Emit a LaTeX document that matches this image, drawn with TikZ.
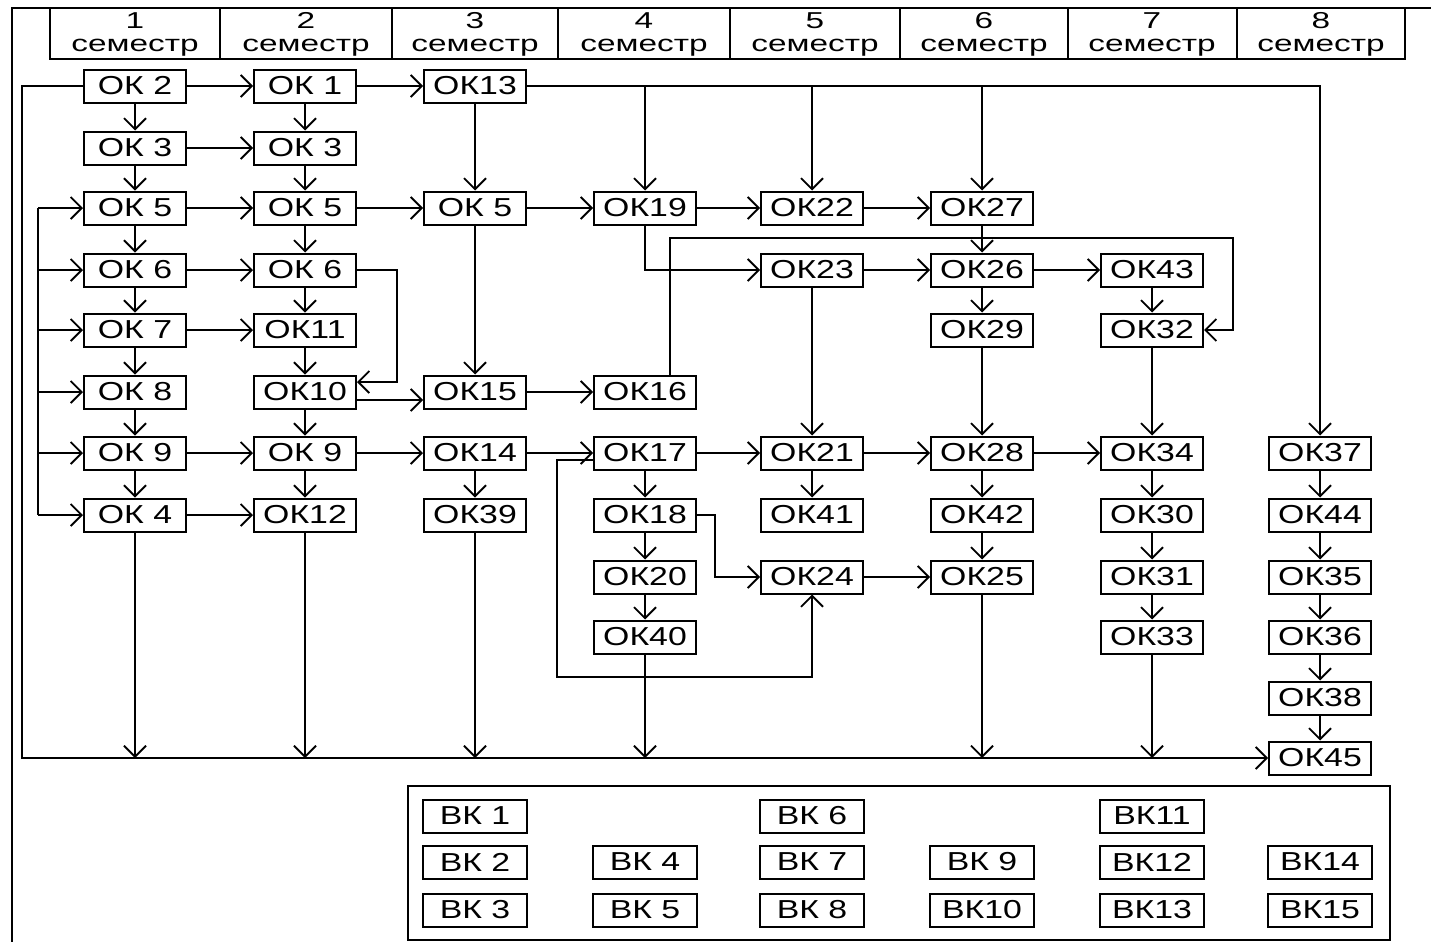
\documentclass[tikz,border=0pt]{standalone}
\usepackage{fontspec}
\setmainfont{Liberation Sans}
\newfontfamily\boxfont[FakeStretch=1.3]{Liberation Sans}
\newfontfamily\hdrfont[FakeStretch=1.45]{Liberation Sans}
\usetikzlibrary{arrows.meta}
\begin{document}
\begin{tikzpicture}[x=0.5pt,y=-0.5pt,line width=0.9pt,
  okbox/.style={draw,line width=1pt,fill=white,minimum width=51pt,minimum height=16.5pt,inner sep=0pt,font=\boxfont\fontsize{13pt}{13pt}\selectfont},
  vkbox/.style={okbox,minimum width=52pt},
  arr/.style={-{Straight Barb[length=5.5pt,width=11pt]}},
  hdr/.style={align=center,inner sep=0pt,font=\hdrfont\fontsize{11.5pt}{11.5pt}\selectfont}]
\useasboundingbox (0,0) rectangle (1431,942);
\fill[white] (0,0) rectangle (1431,942);
% outer frame
\draw (1431,8) -- (12,8) -- (12,942);
% header
\draw (50,8) rectangle (1405,59);
\foreach \xx in {220,392,558,730,900,1068,1237} \draw (\xx,8) -- (\xx,59);
\node[hdr] (h1) at (135,34) {1\\семестр};
\node[hdr] (h2) at (306,34) {2\\семестр};
\node[hdr] (h3) at (475,34) {3\\семестр};
\node[hdr] (h4) at (644,34) {4\\семестр};
\node[hdr] (h5) at (815,34) {5\\семестр};
\node[hdr] (h6) at (984,34) {6\\семестр};
\node[hdr] (h7) at (1152,34) {7\\семестр};
\node[hdr] (h8) at (1321,34) {8\\семестр};
% column 1
\node[okbox] (a2) at (135,86) {ОК 2};
\node[okbox] (a3) at (135,148) {ОК 3};
\node[okbox] (a5) at (135,208) {ОК 5};
\node[okbox] (a6) at (135,270) {ОК 6};
\node[okbox] (a7) at (135,330) {ОК 7};
\node[okbox] (a8) at (135,392) {ОК 8};
\node[okbox] (a9) at (135,453) {ОК 9};
\node[okbox] (a4) at (135,515) {ОК 4};
% column 2
\node[okbox] (b1) at (305,86) {ОК 1};
\node[okbox] (b3) at (305,148) {ОК 3};
\node[okbox] (b5) at (305,208) {ОК 5};
\node[okbox] (b6) at (305,270) {ОК 6};
\node[okbox] (b11) at (305,330) {ОК11};
\node[okbox] (b10) at (305,392) {ОК10};
\node[okbox] (b9) at (305,453) {ОК 9};
\node[okbox] (b12) at (305,515) {ОК12};
% column 3
\node[okbox] (k13) at (475,86) {ОК13};
\node[okbox] (c5) at (475,208) {ОК 5};
\node[okbox] (k15) at (475,392) {ОК15};
\node[okbox] (k14) at (475,453) {ОК14};
\node[okbox] (k39) at (475,515) {ОК39};
% column 4
\node[okbox] (k19) at (645,208) {ОК19};
\node[okbox] (k16) at (645,392) {ОК16};
\node[okbox] (k17) at (645,453) {ОК17};
\node[okbox] (k18) at (645,515) {ОК18};
\node[okbox] (k20) at (645,577) {ОК20};
\node[okbox] (k40) at (645,637) {ОК40};
% column 5
\node[okbox] (k22) at (812,208) {ОК22};
\node[okbox] (k23) at (812,270) {ОК23};
\node[okbox] (k21) at (812,453) {ОК21};
\node[okbox] (k41) at (812,515) {ОК41};
\node[okbox] (k24) at (812,577) {ОК24};
% column 6
\node[okbox] (k27) at (982,208) {ОК27};
\node[okbox] (k26) at (982,270) {ОК26};
\node[okbox] (k29) at (982,330) {ОК29};
\node[okbox] (k28) at (982,453) {ОК28};
\node[okbox] (k42) at (982,515) {ОК42};
\node[okbox] (k25) at (982,577) {ОК25};
% column 7
\node[okbox] (k43) at (1152,270) {ОК43};
\node[okbox] (k32) at (1152,330) {ОК32};
\node[okbox] (k34) at (1152,453) {ОК34};
\node[okbox] (k30) at (1152,515) {ОК30};
\node[okbox] (k31) at (1152,577) {ОК31};
\node[okbox] (k33) at (1152,637) {ОК33};
% column 8
\node[okbox] (k37) at (1320,453) {ОК37};
\node[okbox] (k44) at (1320,515) {ОК44};
\node[okbox] (k35) at (1320,577) {ОК35};
\node[okbox] (k36) at (1320,637) {ОК36};
\node[okbox] (k38) at (1320,698) {ОК38};
\node[okbox] (k45) at (1320,758) {ОК45};
% helper coordinates
\coordinate (busL) at (22,758);
\coordinate (lbt) at (38,208);
\coordinate (lbb) at (38,515);
\coordinate (t16) at (670,238);
\coordinate (r32) at (1233,238);
\coordinate (l17) at (557,677);
% vertical chains
\foreach \u/\v in {a2/a3,a3/a5,a5/a6,a6/a7,a7/a8,a8/a9,a9/a4,
  b1/b3,b3/b5,b5/b6,b6/b11,b11/b10,b10/b9,b9/b12,
  k13/c5,c5/k15,k14/k39,k17/k18,k18/k20,k20/k40,
  k23/k21,k21/k41,k27/k26,k26/k29,k29/k28,k28/k42,k42/k25,
  k43/k32,k32/k34,k34/k30,k30/k31,k31/k33,
  k37/k44,k44/k35,k35/k36,k36/k38,k38/k45}
  \draw[arr] (\u.south) -- (\v.north);
% horizontal arrows
\foreach \u/\v in {a2/b1,b1/k13,a3/b3,a5/b5,b5/c5,c5/k19,k19/k22,k22/k27,
  a6/b6,a7/b11,a9/b9,b9/k14,k14/k17,k17/k21,k21/k28,k28/k34,
  k23/k26,k26/k43,a4/b12,k15/k16,k24/k25}
  \draw[arr] (\u.east) -- (\v.west);
% top line from OK13
\draw[arr] (k13.east) -| (k37.north);
\draw[arr] (k13.east -| k19) -- (k19.north);
\draw[arr] (k13.east -| k22) -- (k22.north);
\draw[arr] (k13.east -| k27) -- (k27.north);
% OK19 -> OK23
\draw[arr] (k19.south) |- (k23.west);
% OK16 -> OK32
\draw[arr] (k16.north -| t16) -- (t16) -- (r32) |- (k32.east);
% OK6 -> OK10
\draw[arr] (b6.east) -- ++(20pt,0) |- ([yshift=5pt]b10.east);
% OK10 -> OK15
\draw[arr] ([yshift=-4pt]b10.east) -- ([yshift=-4pt]k15.west);
% OK18 -> OK24
\draw[arr] (k18.east) -- ++(9pt,0) |- (k24.west);
% OK17 loop -> OK24
\draw[arr] ([yshift=-3.5pt]k17.west) -| (l17) -| (k24.south);
% left bracket
\draw (lbt) -- (lbb);
\draw[arr] (lbt) -- (a5.west);
\draw[arr] (lbt |- a6) -- (a6.west);
\draw[arr] (lbt |- a7) -- (a7.west);
\draw[arr] (lbt |- a8) -- (a8.west);
\draw[arr] (lbt |- a9) -- (a9.west);
\draw[arr] (lbb) -- (a4.west);
% bottom bus
\draw[arr] (a2.west) -| (busL) -- (k45.west);
\foreach \u in {a4,b12,k39,k40,k25,k33}
  \draw[arr] (\u.south) -- (\u.south |- busL);
% elective block
\node[draw,line width=1pt,minimum width=491pt,minimum height=77pt,inner sep=0pt] (vk) at (899,863) {};
\node[vkbox] (v1) at (475,816) {ВК 1};
\node[vkbox] (v2) at (475,862) {ВК 2};
\node[vkbox] (v3) at (475,910) {ВК 3};
\node[vkbox] (v4) at (645,862) {ВК 4};
\node[vkbox] (v5) at (645,910) {ВК 5};
\node[vkbox] (v6) at (812,816) {ВК 6};
\node[vkbox] (v7) at (812,862) {ВК 7};
\node[vkbox] (v8) at (812,910) {ВК 8};
\node[vkbox] (v9) at (982,862) {ВК 9};
\node[vkbox] (v10) at (982,910) {ВК10};
\node[vkbox] (v11) at (1152,816) {ВК11};
\node[vkbox] (v12) at (1152,862) {ВК12};
\node[vkbox] (v13) at (1152,910) {ВК13};
\node[vkbox] (v14) at (1320,862) {ВК14};
\node[vkbox] (v15) at (1320,910) {ВК15};
\end{tikzpicture}
\end{document}
